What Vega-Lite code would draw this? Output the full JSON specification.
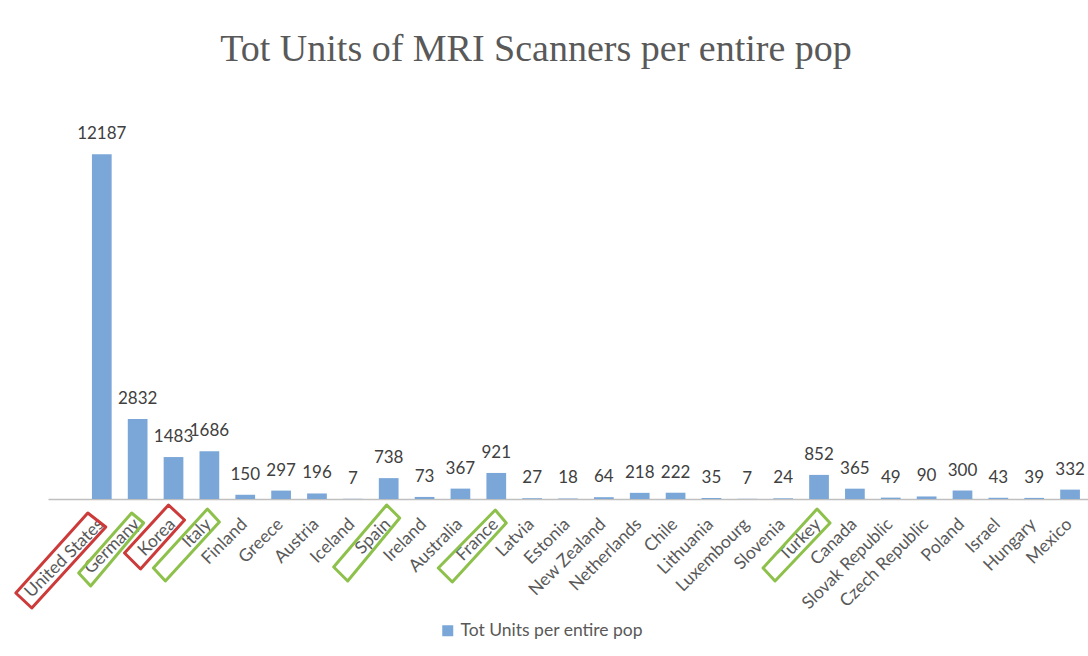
{
  "$schema": "https://vega.github.io/schema/vega-lite/v6.json",
  "width": 1040,
  "height": 396,
  "autosize": {"type": "none"},
  "padding": {"left": 48, "top": 103, "right": 0, "bottom": 157},
  "background": "white",
  "config": {"view": {"stroke": null}, "font": "Lato"},
  "title": {
    "text": "Tot Units of MRI Scanners per entire pop",
    "font": "Liberation Serif",
    "fontSize": 38,
    "fontWeight": "normal",
    "color": "#595959",
    "anchor": "middle",
    "dx": -32,
    "offset": 34
  },
  "data": {
    "values": [
      {"country": "United States", "units": 12187},
      {"country": "Germany", "units": 2832},
      {"country": "Korea", "units": 1483},
      {"country": "Italy", "units": 1686},
      {"country": "Finland", "units": 150},
      {"country": "Greece", "units": 297},
      {"country": "Austria", "units": 196},
      {"country": "Iceland", "units": 7},
      {"country": "Spain", "units": 738},
      {"country": "Ireland", "units": 73},
      {"country": "Australia", "units": 367},
      {"country": "France", "units": 921},
      {"country": "Latvia", "units": 27},
      {"country": "Estonia", "units": 18},
      {"country": "New Zealand", "units": 64},
      {"country": "Netherlands", "units": 218},
      {"country": "Chile", "units": 222},
      {"country": "Lithuania", "units": 35},
      {"country": "Luxembourg", "units": 7},
      {"country": "Slovenia", "units": 24},
      {"country": "Turkey", "units": 852},
      {"country": "Canada", "units": 365},
      {"country": "Slovak Republic", "units": 49},
      {"country": "Czech Republic", "units": 90},
      {"country": "Poland", "units": 300},
      {"country": "Israel", "units": 43},
      {"country": "Hungary", "units": 39},
      {"country": "Mexico", "units": 332}
    ]
  },
  "encoding": {
    "x": {
      "field": "country",
      "type": "nominal",
      "scale": {
        "domain": [" ", "United States", "Germany", "Korea", "Italy", "Finland", "Greece", "Austria", "Iceland", "Spain", "Ireland", "Australia", "France", "Latvia", "Estonia", "New Zealand", "Netherlands", "Chile", "Lithuania", "Luxembourg", "Slovenia", "Turkey", "Canada", "Slovak Republic", "Czech Republic", "Poland", "Israel", "Hungary", "Mexico"],
        "paddingInner": 0.45,
        "paddingOuter": 0.225
      },
      "axis": {
        "title": null,
        "labelAngle": -45,
        "labelFont": "Lato",
        "labelFontSize": 17.5,
        "labelColor": "#595959",
        "labelOverlap": false,
        "labelPadding": 16,
        "labelOffset": -7,
        "ticks": false,
        "domainColor": "#bfbfbf",
        "domainWidth": 1.5
      }
    }
  },
  "layer": [
    {
      "mark": {"type": "bar"},
      "encoding": {
        "y": {"field": "units", "type": "quantitative", "scale": {"domain": [0, 14000]}, "axis": null},
        "color": {
          "datum": "Tot Units per entire pop",
          "type": "nominal",
          "scale": {"range": ["#7ba7d8"]},
          "legend": {
            "title": null,
            "orient": "none",
            "legendX": 391,
            "legendY": 519,
            "symbolType": "square",
            "symbolSize": 121,
            "symbolStrokeWidth": 0,
            "labelFont": "Lato",
            "labelFontSize": 17.5,
            "labelLimit": 400,
            "labelColor": "#595959"
          }
        }
      }
    },
    {
      "mark": {"type": "text", "baseline": "alphabetic", "dy": -15, "font": "Lato", "fontSize": 17, "color": "#404040"},
      "encoding": {
        "y": {"field": "units", "type": "quantitative"},
        "text": {"field": "units", "type": "quantitative", "format": "d"}
      }
    },
    {
      "transform": [{"filter": {"field": "country", "oneOf": ["United States", "Germany", "Korea", "Italy", "Spain", "France", "Turkey"]}}],
      "mark": {"type": "point", "size": 4, "filled": false, "strokeWidth": 3, "strokeJoin": "round", "opacity": 1},
      "encoding": {
        "y": {"datum": 0, "type": "quantitative"},
        "shape": {
          "field": "country",
          "type": "nominal",
          "scale": {
            "domain": ["United States", "Germany", "Korea", "Italy", "Spain", "France", "Turkey"],
            "range": ["M-14,14L4,28L-70,109L-86,94Z", "M-6,14L6,24L-47,87L-59,74Z", "M-5,6L11,21L-33,70L-49,54Z", "M-2,10L10,23L-44,82L-56,69Z", "M-2,6L11,19L-41,82L-55,68Z", "M-1,11L10,24L-44,83L-58,69Z", "M-2,10L11,24L-44,82L-56,69Z"]
          },
          "legend": null
        },
        "stroke": {
          "field": "country",
          "type": "nominal",
          "scale": {
            "domain": ["United States", "Germany", "Korea", "Italy", "Spain", "France", "Turkey"],
            "range": ["#cc3a3a", "#8dc14b", "#cc3a3a", "#8dc14b", "#8dc14b", "#8dc14b", "#8dc14b"]
          },
          "legend": null
        }
      }
    }
  ]
}
